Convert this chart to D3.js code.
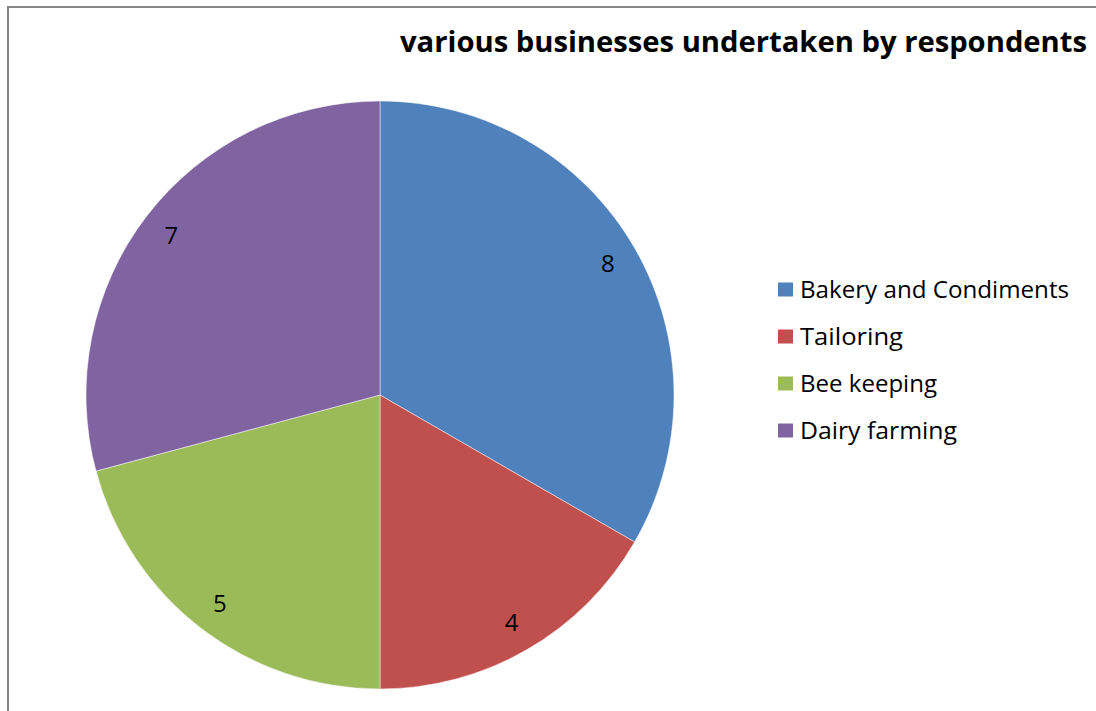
<!DOCTYPE html>
<html>
<head>
<meta charset="utf-8">
<script src="https://cdn.jsdelivr.net/npm/d3@7/dist/d3.min.js"></script>
<style>
  html, body { margin: 0; padding: 0; background: #fff; }
  svg { display: block; }
</style>
</head>
<body>
<svg id="chart" width="1096" height="711"></svg>
<script>
const title = "various businesses undertaken by respondents";
const categories = ["Bakery and Condiments", "Tailoring", "Bee keeping", "Dairy farming"];
const values = [8, 4, 5, 7];
const colors = ["#4F81BD", "#C0504D", "#9BBB59", "#8064A2"];

const svg = d3.select("#chart");
const W = 1096, H = 711;

// chart area border
svg.append("rect")
  .attr("x", 8).attr("y", 7)
  .attr("width", W + 20).attr("height", H + 20)
  .attr("fill", "#fff")
  .attr("stroke", "#868686")
  .attr("stroke-width", 2);

// title
svg.append("text")
  .attr("x", 400).attr("y", 52)
  .attr("font-family", "'Open Sans', 'DejaVu Sans', sans-serif")
  .attr("font-weight", "bold")
  .attr("font-size", 28)
  .attr("fill", "#000")
  .attr("textLength", 687)
  .attr("lengthAdjust", "spacingAndGlyphs")
  .text(title);

const cx = 380, cy = 395, r = 294;
const data = categories.map((c, i) => ({ name: c, value: values[i], color: colors[i] }));

const pie = d3.pie().value(d => d.value).sort(null);
const arc = d3.arc().innerRadius(0).outerRadius(r);
const labelArc = d3.arc().innerRadius(263).outerRadius(263);

const g = svg.append("g").attr("transform", `translate(${cx},${cy})`);
const arcs = pie(data);

g.selectAll("path.slice")
  .data(arcs)
  .enter().append("path")
  .attr("class", "slice")
  .attr("d", arc)
  .attr("fill", d => d.data.color)
  .attr("stroke", "#ffffff")
  .attr("stroke-opacity", 0.6)
  .attr("stroke-width", 0.8);

g.selectAll("text.lbl")
  .data(arcs)
  .enter().append("text")
  .attr("class", "lbl")
  .attr("transform", d => `translate(${labelArc.centroid(d)})`)
  .attr("text-anchor", "middle")
  .attr("dy", "0.36em")
  .attr("font-family", "'Open Sans', 'DejaVu Sans', sans-serif")
  .attr("font-size", 24)
  .attr("fill", "#000")
  .text(d => d.data.value);

// legend
const legendY = d3.scaleBand().domain(categories).range([266, 454]);
const leg = svg.append("g");
const items = leg.selectAll("g.item").data(data).enter().append("g")
  .attr("class", "item")
  .attr("transform", d => `translate(0,${legendY(d.name) + legendY.bandwidth() / 2})`);

items.append("rect")
  .attr("x", 778).attr("y", -7)
  .attr("width", 15).attr("height", 14)
  .attr("fill", d => d.color);

const legendTextWidths = [269, 103, 137, 157];
items.append("text")
  .attr("x", 800).attr("y", 0)
  .attr("dy", "0.36em")
  .attr("font-family", "'Open Sans', 'DejaVu Sans', sans-serif")
  .attr("font-size", 23)
  .attr("fill", "#000")
  .attr("textLength", (d, i) => legendTextWidths[i])
  .attr("lengthAdjust", "spacingAndGlyphs")
  .text(d => d.name);
</script>
</body>
</html>
